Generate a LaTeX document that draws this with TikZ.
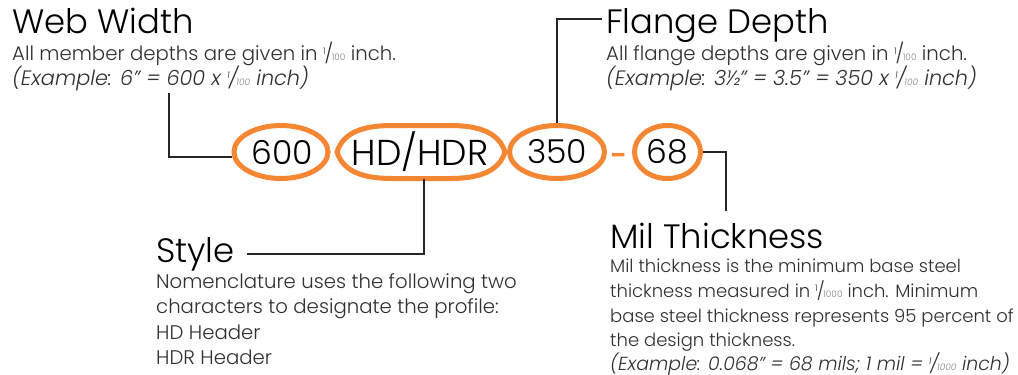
\documentclass[tikz,border=0pt]{standalone}
\usepackage{fontspec}
\setmainfont{Poppins}[UprightFont=* Light,ItalicFont=* Light Italic]
\newfontfamily\dashfont{Poppins}[UprightFont=* SemiBold]
\usetikzlibrary{shapes.geometric,shapes.misc}
\definecolor{ora}{HTML}{F58634}
\definecolor{bodyc}{HTML}{303030}
\newcommand{\fr}[1]{\raisebox{0.3em}{\fontsize{9}{9}\selectfont 1}\kern-1pt/\kern-1.5pt{\fontsize{9}{9}\selectfont\color{gray} #1}}
\tikzset{
 x=1pt,y=-1pt,
 title/.style={anchor=base west,inner sep=0pt,font=\fontsize{33.8}{33.8}\selectfont,text=black},
 bodytext/.style={anchor=base west,inner sep=0pt,font=\fontsize{19.7}{19.7}\selectfont,text=bodyc},
 bodyital/.style={anchor=base west,inner sep=0pt,font=\fontsize{20.8}{20.8}\selectfont\itshape,text=bodyc},
 milbody/.style={anchor=base west,inner sep=0pt,font=\fontsize{18}{18}\selectfont,text=bodyc},
 milital/.style={anchor=base west,inner sep=0pt,font=\fontsize{18.9}{18.9}\selectfont\itshape,text=bodyc},
 codeell/.style={draw=ora,line width=5pt,shape=ellipse,inner sep=0pt,font=\fontsize{33}{33}\selectfont,text=black},
 codetxt/.style={inner sep=0pt,font=\fontsize{36}{36}\selectfont,text=black},
 leader/.style={draw=black!85,line width=1.4pt}
}
\begin{document}
\begin{tikzpicture}
\useasboundingbox (0,0) rectangle (1018,375);
\node[title] (tw) at (12,33) {Web Width};
\node[bodytext] at (12,60) (w1) {All member depths are given in \fr{100} inch.};
\node[bodyital] at (12,85) (w2) {(Example: 6” = 600 x \fr{100} inch)};
\node[title] (tf) at (606,33) {Flange Depth};
\node[bodytext] at (606,60) (f1) {All flange depths are given in \fr{100} inch.};
\node[bodyital] at (606,85) (f2) {(Example: 3½” = 3.5” = 350 x \fr{100} inch)};
\node[title] (ts) at (156,262) {Style};
\node[bodytext] at (156,288) (s1) {Nomenclature uses the following two};
\node[bodytext] at (156,313) (s2) {characters to designate the profile:};
\node[bodytext] at (156,339) (s3) {HD Header};
\node[bodytext] at (156,364) (s4) {HDR Header};
\node[title] (tm) at (610,248) {Mil Thickness};
\node[milbody] at (610,272) (m1) {Mil thickness is the minimum base steel};
\node[milbody] at (610,297) (m2) {thickness measured in \fr{1000} inch. Minimum};
\node[milbody] at (610,322) (m3) {base steel thickness represents 95 percent of};
\node[milbody] at (610,346) (m4) {the design thickness.};
\node[milital] at (610,370) (m5) {(Example: 0.068” = 68 mils; 1 mil = \fr{1000} inch)};
\node[codeell,minimum width=94pt,minimum height=53pt] (a) at (281,152) {\hspace{3pt}600};
\node[codetxt,minimum width=168pt,minimum height=53pt] (b) at (420,152) {HD/HDR};
\draw[draw=ora,line width=5pt] (337,152) .. controls (343,133) and (362,125.5) .. (392,125.5) -- (450,125.5)
  .. controls (480,125.5) and (499,133) .. (505,152) .. controls (499,171) and (480,178.5) .. (450,178.5) -- (392,178.5)
  .. controls (362,178.5) and (343,171) .. (337,152) -- cycle;
\node[codeell,minimum width=95pt,minimum height=53pt] (c) at (557,152) {350};
\node[text=ora,inner sep=0pt,font=\dashfont\fontsize{29}{29}\selectfont] (d) at (619,159) {-};
\node[codeell,minimum width=66pt,minimum height=53pt] (e) at (667.5,152) {68};
\coordinate (wend) at (169,93);
\coordinate (fend) at (602,19);
\coordinate (send) at (247,254);
\coordinate (mend) at (726,211);
\draw[leader] (wend) |- (a.186);
\draw[leader] (c.north) |- (fend);
\draw[leader] (b.south -| 424,0) |- (send);
\draw[leader] (e.east) -| (mend);
\end{tikzpicture}
\end{document}
